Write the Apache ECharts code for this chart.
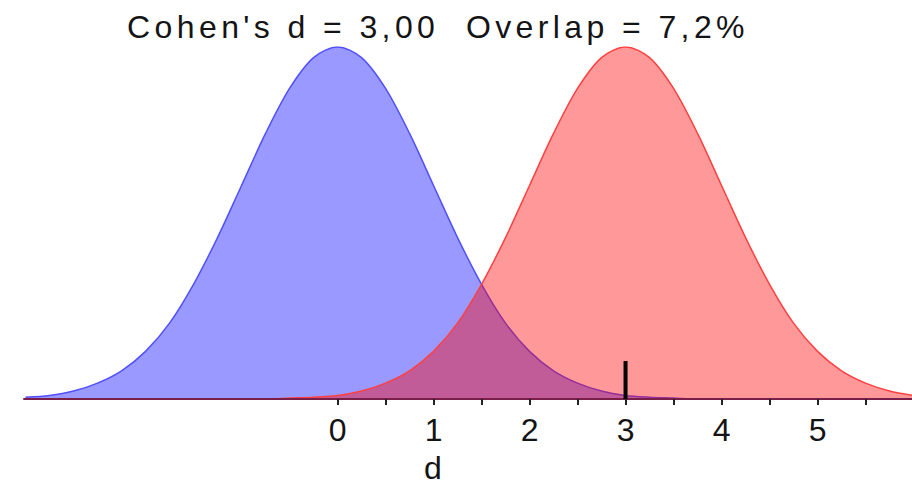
<!DOCTYPE html>
<html>
<head>
<meta charset="utf-8">
<style>
  html, body { margin: 0; padding: 0; background: #ffffff; overflow: hidden; }
  #chart { width: 912px; height: 481px; }
</style>
<script src="https://cdn.jsdelivr.net/npm/echarts@6/dist/echarts.min.js"></script>
</head>
<body>
<div id="chart"></div>
<script>
// Sample positions along the d axis
const dValues = [-3.25, -3, -2.75, -2.5, -2.25, -2, -1.75, -1.5, -1.25, -1, -0.75, -0.5, -0.25,
  0, 0.25, 0.5, 0.75, 1, 1.25, 1.5, 1.75, 2, 2.25, 2.5, 2.75, 3, 3.25, 3.5, 3.75,
  4, 4.25, 4.5, 4.75, 5, 5.25, 5.5, 5.75, 6];

// Density of the control group (centred on 0)
const controlDensity = [0.002, 0.004, 0.009, 0.018, 0.032, 0.054, 0.086, 0.130, 0.183, 0.242, 0.301, 0.352, 0.387,
  0.399, 0.387, 0.352, 0.301, 0.242, 0.183, 0.130, 0.086, 0.054, 0.032, 0.018, 0.009, 0.004, 0.002, 0.001, 0,
  0, 0, 0, 0, 0, 0, 0, 0, 0];

// Density of the treatment group (centred on 3)
const treatmentDensity = [0, 0, 0, 0, 0, 0, 0, 0, 0, 0, 0, 0.001, 0.002,
  0.004, 0.009, 0.018, 0.032, 0.054, 0.086, 0.130, 0.183, 0.242, 0.301, 0.352, 0.387, 0.399, 0.387, 0.352, 0.301,
  0.242, 0.183, 0.130, 0.086, 0.054, 0.032, 0.018, 0.009, 0.004];

// Tick positions and labels on the d axis
const tickValues = [0, 0.5, 1, 1.5, 2, 2.5, 3, 3.5, 4, 4.5, 5, 5.5];
const labelValues = [0, 1, 2, 3, 4, 5];

// Effect-size marker
const markerD = [3, 3];
const markerHeight = [0, 0.043];

const titleText = "Cohen's d = 3,00  Overlap = 7,2%";
const axisName = 'd';

const pairs = (xs, ys) => xs.map((x, i) => [x, ys[i]]);

const chart = echarts.init(document.getElementById('chart'), null, {
  renderer: 'svg', width: 912, height: 481
});

chart.setOption({
  animation: false,
  backgroundColor: '#ffffff',
  title: {
    text: titleText,
    left: 433,
    top: 6,
    textAlign: 'center',
    textStyle: {
      fontFamily: 'Liberation Sans, Arial, sans-serif',
      fontSize: 32,
      fontWeight: 'normal',
      color: '#141414'
    }
  },
  grid: {
    left: 24, right: 0, top: 47, height: 352,
    containLabel: false,
    outerBoundsMode: 'none'
  },
  xAxis: {
    type: 'value',
    min: -3.266,
    max: 5.984,
    z: 5,
    name: axisName,
    nameLocation: 'middle',
    nameGap: 57,
    nameTextStyle: {
      fontFamily: 'Liberation Sans, Arial, sans-serif',
      fontSize: 32,
      lineHeight: 24,
      color: '#141414',
      padding: [0, 70, 0, 0]
    },
    splitLine: { show: false },
    axisLine: { show: true, onZero: false, lineStyle: { color: '#7a1f4a', width: 2 } },
    axisTick: {
      show: true,
      customValues: tickValues,
      inside: false,
      length: 6,
      lineStyle: { color: '#222222', width: 2 }
    },
    axisLabel: {
      show: true,
      customValues: labelValues,
      margin: 15,
      fontFamily: 'Liberation Sans, Arial, sans-serif',
      fontSize: 32,
      color: '#141414'
    }
  },
  yAxis: {
    type: 'value',
    min: 0,
    max: 0.399,
    show: false,
    splitLine: { show: false }
  },
  series: [
    {
      name: 'control',
      type: 'line',
      data: pairs(dValues, controlDensity),
      showSymbol: false,
      smooth: 0.3,
      lineStyle: { color: '#5050ff', width: 1.5 },
      areaStyle: { color: 'rgba(0,0,255,0.4)', opacity: 1 },
      z: 2
    },
    {
      name: 'treatment',
      type: 'line',
      data: pairs(dValues, treatmentDensity),
      showSymbol: false,
      smooth: 0.3,
      lineStyle: { color: '#ff4040', width: 1.5 },
      areaStyle: { color: 'rgba(255,0,0,0.4)', opacity: 1 },
      z: 3
    },
    {
      name: 'marker',
      type: 'line',
      data: pairs(markerD, markerHeight),
      showSymbol: false,
      lineStyle: { color: '#000000', width: 4 },
      z: 6
    }
  ]
});

// Wider letter spacing for the heading line
document.querySelectorAll('#chart svg text').forEach(function (el) {
  if (el.textContent === titleText) {
    el.style.letterSpacing = '4.4px';
  }
});
</script>
</body>
</html>
